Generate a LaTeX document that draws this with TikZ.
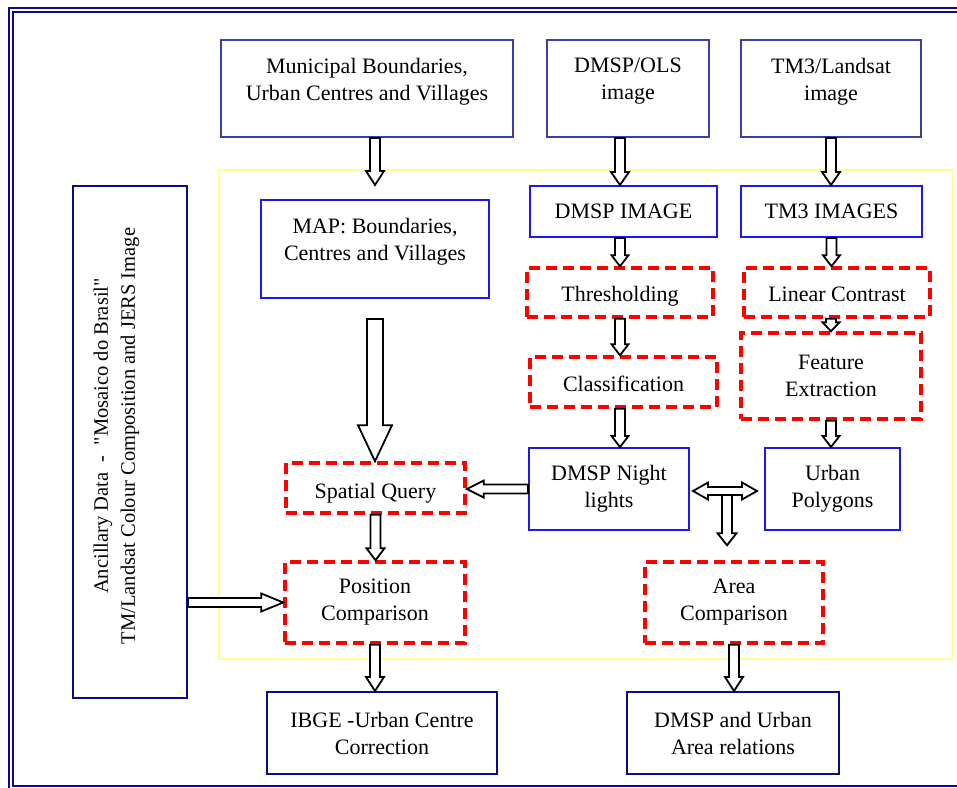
\documentclass[tikz,border=0pt]{standalone}
\usepackage{fontspec}
\setmainfont{Liberation Serif}
\usetikzlibrary{calc}
\definecolor{navyline}{RGB}{10,10,140}
\definecolor{topblue}{RGB}{60,60,175}
\definecolor{midblue}{RGB}{25,25,240}
\definecolor{dashred}{RGB}{255,0,0}
\definecolor{paleyellow}{RGB}{255,255,150}
\tikzset{
 boxbase/.style={rectangle, inner sep=0pt, align=center, font=\fontsize{22}{27}\selectfont},
 topbox/.style={boxbase, draw=topblue, line width=1.8pt},
 midbox/.style={boxbase, draw=midblue, line width=2pt},
 botbox/.style={boxbase, draw=navyline, line width=2pt},
 dashbox/.style={boxbase, draw=dashred, line width=3.5pt, dash pattern=on 11pt off 6pt},
 txt/.style={inner sep=0pt, align=center, font=\fontsize{22}{27}\selectfont},
 sidetxt/.style={inner sep=0pt, align=center, font=\fontsize{20.5}{27}\selectfont},
 barrow/.style={draw=black, fill=white, line width=1.8pt, line join=miter},
 frame/.style={draw=navyline, line width=1.5pt},
 zone/.style={draw=paleyellow, line width=1.3pt},
}
% start, end, half shaft width, half head width, head length
\newcommand\blockarrow[5]{%
  \draw[barrow] let \p1=(#1), \p2=(#2),
      \n1={atan2(\y2-\y1,\x2-\x1)},
      \n2={veclen(\x2-\x1,\y2-\y1)-#5*1pt} in
    ($(\p1)+({\n1+90}:#3pt)$) -- ($(\p1)+(\n1:\n2)+({\n1+90}:#3pt)$)
    -- ($(\p1)+(\n1:\n2)+({\n1+90}:#4pt)$) -- (\p2)
    -- ($(\p1)+(\n1:\n2)+({\n1-90}:#4pt)$) -- ($(\p1)+(\n1:\n2)+({\n1-90}:#3pt)$)
    -- ($(\p1)+({\n1-90}:#3pt)$) -- cycle;}
\newcommand\dblarrow[5]{%
  \draw[barrow] let \p1=(#1), \p2=(#2),
      \n1={atan2(\y2-\y1,\x2-\x1)},
      \n2={veclen(\x2-\x1,\y2-\y1)-#5*1pt} in
    (\p1) -- ($(\p1)+(\n1:#5pt)+({\n1+90}:#4pt)$) -- ($(\p1)+(\n1:#5pt)+({\n1+90}:#3pt)$)
    -- ($(\p1)+(\n1:\n2)+({\n1+90}:#3pt)$) -- ($(\p1)+(\n1:\n2)+({\n1+90}:#4pt)$)
    -- (\p2)
    -- ($(\p1)+(\n1:\n2)+({\n1-90}:#4pt)$) -- ($(\p1)+(\n1:\n2)+({\n1-90}:#3pt)$)
    -- ($(\p1)+(\n1:#5pt)+({\n1-90}:#3pt)$) -- ($(\p1)+(\n1:#5pt)+({\n1-90}:#4pt)$)
    -- cycle;}
\begin{document}
\begin{tikzpicture}[x=1pt,y=-1pt]
\useasboundingbox (0,0) rectangle (957,787);
\draw[frame] (9,8) rectangle (975,800);
\draw[frame] (13,12) rectangle (962,786);
\draw[zone] (219,170) rectangle (953,659);

% top row
\node[topbox, minimum width=292pt, minimum height=97pt] (muni) at (367,88.5) {};
\node[txt] (munitxt) at ($(muni)+(0,-7)$) {Municipal Boundaries,\\Urban Centres and Villages};
\node[topbox, minimum width=162pt, minimum height=97pt] (dmspols) at (628,88.5) {};
\node[txt] (dmspolstxt) at ($(dmspols)+(0,-7)$) {DMSP/OLS\\image};
\node[topbox, minimum width=180pt, minimum height=97pt] (tmls) at (831,88.5) {};
\node[txt] (tmlstxt) at ($(tmls)+(0,-7)$) {TM3/Landsat\\image};

% middle
\node[midbox, minimum width=228pt, minimum height=98pt] (mapb) at (375,249) {};
\node[txt] (mapbtxt) at ($(mapb)+(0,-7)$) {MAP: Boundaries,\\Centres and Villages};
\node[midbox, minimum width=187pt, minimum height=51pt] (dmspimg) at (623.5,211.5) {DMSP IMAGE};
\node[midbox, minimum width=181pt, minimum height=51pt] (tm3img) at (831.5,211.5) {TM3 IMAGES};
\node[dashbox, minimum width=186pt, minimum height=49pt] (thr) at (620,292.5) {};
\node[txt] (thrtxt) at ($(thr)+(0,4)$) {Thresholding};
\node[dashbox, minimum width=186pt, minimum height=49pt] (lc) at (837,292.5) {};
\node[txt] (lctxt) at ($(lc)+(0,2)$) {Linear Contrast};
\node[dashbox, minimum width=187pt, minimum height=50pt] (cls) at (623.5,382) {};
\node[txt] (clstxt) at ($(cls)+(0,2)$) {Classification};
\node[dashbox, minimum width=180pt, minimum height=86pt] (fe) at (831,376) {Feature\\Extraction};
\node[midbox, minimum width=160pt, minimum height=82pt] (nl) at (609,489) {DMSP Night\\lights};
\node[midbox, minimum width=135pt, minimum height=82pt] (up) at (832.5,489) {Urban\\Polygons};
\node[dashbox, minimum width=179pt, minimum height=50pt] (sq) at (375.5,488) {};
\node[txt] (sqtxt) at ($(sq)+(0,5)$) {Spatial Query};
\node[dashbox, minimum width=180pt, minimum height=81pt] (pc) at (375,602.5) {Position\\Comparison};
\node[dashbox, minimum width=178pt, minimum height=81pt] (ac) at (734,602.5) {Area\\Comparison};

% bottom
\node[botbox, minimum width=230pt, minimum height=82pt] (ibge) at (382,733) {IBGE -Urban Centre\\Correction};
\node[botbox, minimum width=212pt, minimum height=82pt] (dur) at (733,733) {DMSP and Urban\\Area relations};
\node[botbox, minimum width=114pt, minimum height=512pt] (anc) at (130,442) {};
\node[sidetxt, rotate=90] (anctxt) at (116.5,436) {Ancillary Data~~-~~\textquotedbl Mosaico do Brasil\textquotedbl\\TM/Landsat Colour Composition and JERS Image};

% arrows
\blockarrow{muni.south -| mapb}{$(mapb.north)+(0,-14)$}{5}{9}{14}
\blockarrow{dmspols.south -| thr}{dmspimg.north -| thr}{5}{9}{13}
\blockarrow{tmls.south}{tmls.south |- tm3img.north}{5}{9}{13}
\blockarrow{dmspimg.south -| thr}{thr.north}{5}{8.5}{11}
\blockarrow{tm3img.south}{tm3img.south |- lc.north}{5}{8.5}{11}
\blockarrow{thr.south}{thr.south |- cls.north}{5}{8.5}{11}
\blockarrow{lc.south -| fe}{fe.north}{5}{8.5}{9}
\blockarrow{cls.south -| thr}{nl.north -| thr}{5}{8.5}{11}
\blockarrow{fe.south}{fe.south |- up.north}{5}{8.5}{11}
\blockarrow{$(mapb.south)+(0,20)$}{sq.north -| mapb}{8}{17}{36}
\blockarrow{nl.west}{nl.west -| sq.east}{4.5}{8.5}{17}
\coordinate (tj) at ($(nl.east)!0.5!(up.west)+(0,2)$);
\blockarrow{tj}{$(tj |- ac.north)+(0,-15)$}{5}{9.5}{12}
\dblarrow{$(nl.east)+(3,2)$}{$(up.west)+(-7,2)$}{4}{8.5}{15}
\blockarrow{sq.south}{sq.south |- pc.north}{5}{9}{12}
\blockarrow{anc.east |- pc.west}{pc.west}{4.5}{9}{22}
\blockarrow{pc.south}{pc.south |- ibge.north}{5}{9}{14}
\blockarrow{ac.south}{ac.south |- dur.north}{5}{9}{14}
\end{tikzpicture}
\end{document}
